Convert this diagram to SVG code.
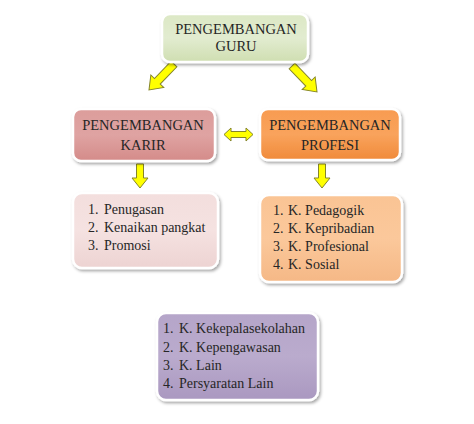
<svg xmlns="http://www.w3.org/2000/svg" width="474" height="424" viewBox="0 0 474 424">
  <defs>
    <filter id="sh" x="-10%" y="-10%" width="125%" height="130%">
      <feDropShadow dx="1.5" dy="2" stdDeviation="1.6" flood-color="#000" flood-opacity="0.35"/>
    </filter>
    <linearGradient id="gGreen" x1="0" y1="0" x2="0" y2="1">
      <stop offset="0" stop-color="#dce8c5"/><stop offset="0.5" stop-color="#e2ecd0"/><stop offset="1" stop-color="#cfdeb1"/>
    </linearGradient>
    <linearGradient id="gKarir" x1="0" y1="0" x2="0" y2="1">
      <stop offset="0" stop-color="#dc9d9b"/><stop offset="0.5" stop-color="#dfa3a2"/><stop offset="1" stop-color="#d48b89"/>
    </linearGradient>
    <linearGradient id="gProf" x1="0" y1="0" x2="0" y2="1">
      <stop offset="0" stop-color="#f89b50"/><stop offset="0.5" stop-color="#f9a35c"/><stop offset="1" stop-color="#f08a3a"/>
    </linearGradient>
    <linearGradient id="gPink" x1="0" y1="0" x2="0" y2="1">
      <stop offset="0" stop-color="#f3dedd"/><stop offset="0.5" stop-color="#f5e2e1"/><stop offset="1" stop-color="#edd3d2"/>
    </linearGradient>
    <linearGradient id="gPeach" x1="0" y1="0" x2="0" y2="1">
      <stop offset="0" stop-color="#fac494"/><stop offset="0.5" stop-color="#fbc89b"/><stop offset="1" stop-color="#f5b886"/>
    </linearGradient>
    <linearGradient id="gPurple" x1="0" y1="0" x2="0" y2="1">
      <stop offset="0" stop-color="#b5a5c9"/><stop offset="0.5" stop-color="#baabcd"/><stop offset="1" stop-color="#aa98c0"/>
    </linearGradient>
    <path id="arrowDown" d="M-4,0 L4,0 L4,-0 L4,24 L9,24 L0,36 L-9,24 L-4,24 Z"/>
  </defs>
  <style>
    .box { stroke: #ffffff; stroke-width: 2.5; filter: url(#sh); }
    .hd { font-family: "Liberation Serif", "Times New Roman", serif; font-size: 14.5px; fill: #262626; text-anchor: middle; }
    .li { font-family: "Liberation Serif", "Times New Roman", serif; font-size: 14px; fill: #262626; }
    .arr { fill: #ffff00; stroke: #85852a; stroke-width: 1; stroke-linejoin: miter; }
  </style>
  <rect width="474" height="424" fill="#ffffff"/>

  <g id="connectors">
    <use href="#arrowDown" class="arr" transform="translate(174,64) rotate(44)"/>
    <use href="#arrowDown" class="arr" transform="translate(292,66) rotate(-44)"/>
    <path class="arr" d="M224,134.5 L231,128 L231,131.5 L246,131.5 L246,128 L253,134.5 L246,141 L246,137.5 L231,137.5 L231,141 Z"/>
    <path class="arr" d="M136.5,164 L143.5,164 L143.5,178 L148,178 L140,188 L132,178 L136.5,178 Z"/>
    <path class="arr" d="M318.5,164 L325.5,164 L325.5,178 L330,178 L322,188 L314,178 L318.5,178 Z"/>
  </g>

  <g id="node-guru">
    <rect class="box" x="162" y="14" width="146" height="48" rx="8" fill="url(#gGreen)"/>
    <text class="hd" x="236" y="34">PENGEMBANGAN</text>
    <text class="hd" x="236" y="51">GURU</text>
  </g>

  <g id="node-karir">
    <rect class="box" x="73" y="109" width="142" height="52" rx="8" fill="url(#gKarir)"/>
    <text class="hd" x="143" y="130">PENGEMBANGAN</text>
    <text class="hd" x="143" y="150">KARIR</text>
  </g>

  <g id="node-profesi">
    <rect class="box" x="260" y="109" width="140" height="51" rx="8" fill="url(#gProf)"/>
    <text class="hd" x="330" y="130">PENGEMBANGAN</text>
    <text class="hd" x="330" y="150">PROFESI</text>
  </g>

  <g id="node-karir-list">
    <rect class="box" x="73" y="193" width="145" height="75" rx="9" fill="url(#gPink)"/>
    <text class="li" x="88" y="214">1.</text><text class="li" x="104" y="214">Penugasan</text>
    <text class="li" x="88" y="232">2.</text><text class="li" x="104" y="232">Kenaikan pangkat</text>
    <text class="li" x="88" y="250">3.</text><text class="li" x="104" y="250">Promosi</text>
  </g>

  <g id="node-profesi-list">
    <rect class="box" x="260" y="195" width="142" height="87" rx="9" fill="url(#gPeach)"/>
    <text class="li" x="273" y="215">1.</text><text class="li" x="288" y="215">K. Pedagogik</text>
    <text class="li" x="273" y="233">2.</text><text class="li" x="288" y="233">K. Kepribadian</text>
    <text class="li" x="273" y="251">3.</text><text class="li" x="288" y="251">K. Profesional</text>
    <text class="li" x="273" y="269">4.</text><text class="li" x="288" y="269">K. Sosial</text>
  </g>

  <g id="node-lain-list">
    <rect class="box" x="157" y="313" width="161" height="87" rx="9" fill="url(#gPurple)"/>
    <text class="li" x="163" y="333">1.</text><text class="li" x="179" y="333">K. Kekepalasekolahan</text>
    <text class="li" x="163" y="352">2.</text><text class="li" x="179" y="352">K. Kepengawasan</text>
    <text class="li" x="163" y="370">3.</text><text class="li" x="179" y="370">K. Lain</text>
    <text class="li" x="163" y="388">4.</text><text class="li" x="179" y="388">Persyaratan Lain</text>
  </g>
</svg>
